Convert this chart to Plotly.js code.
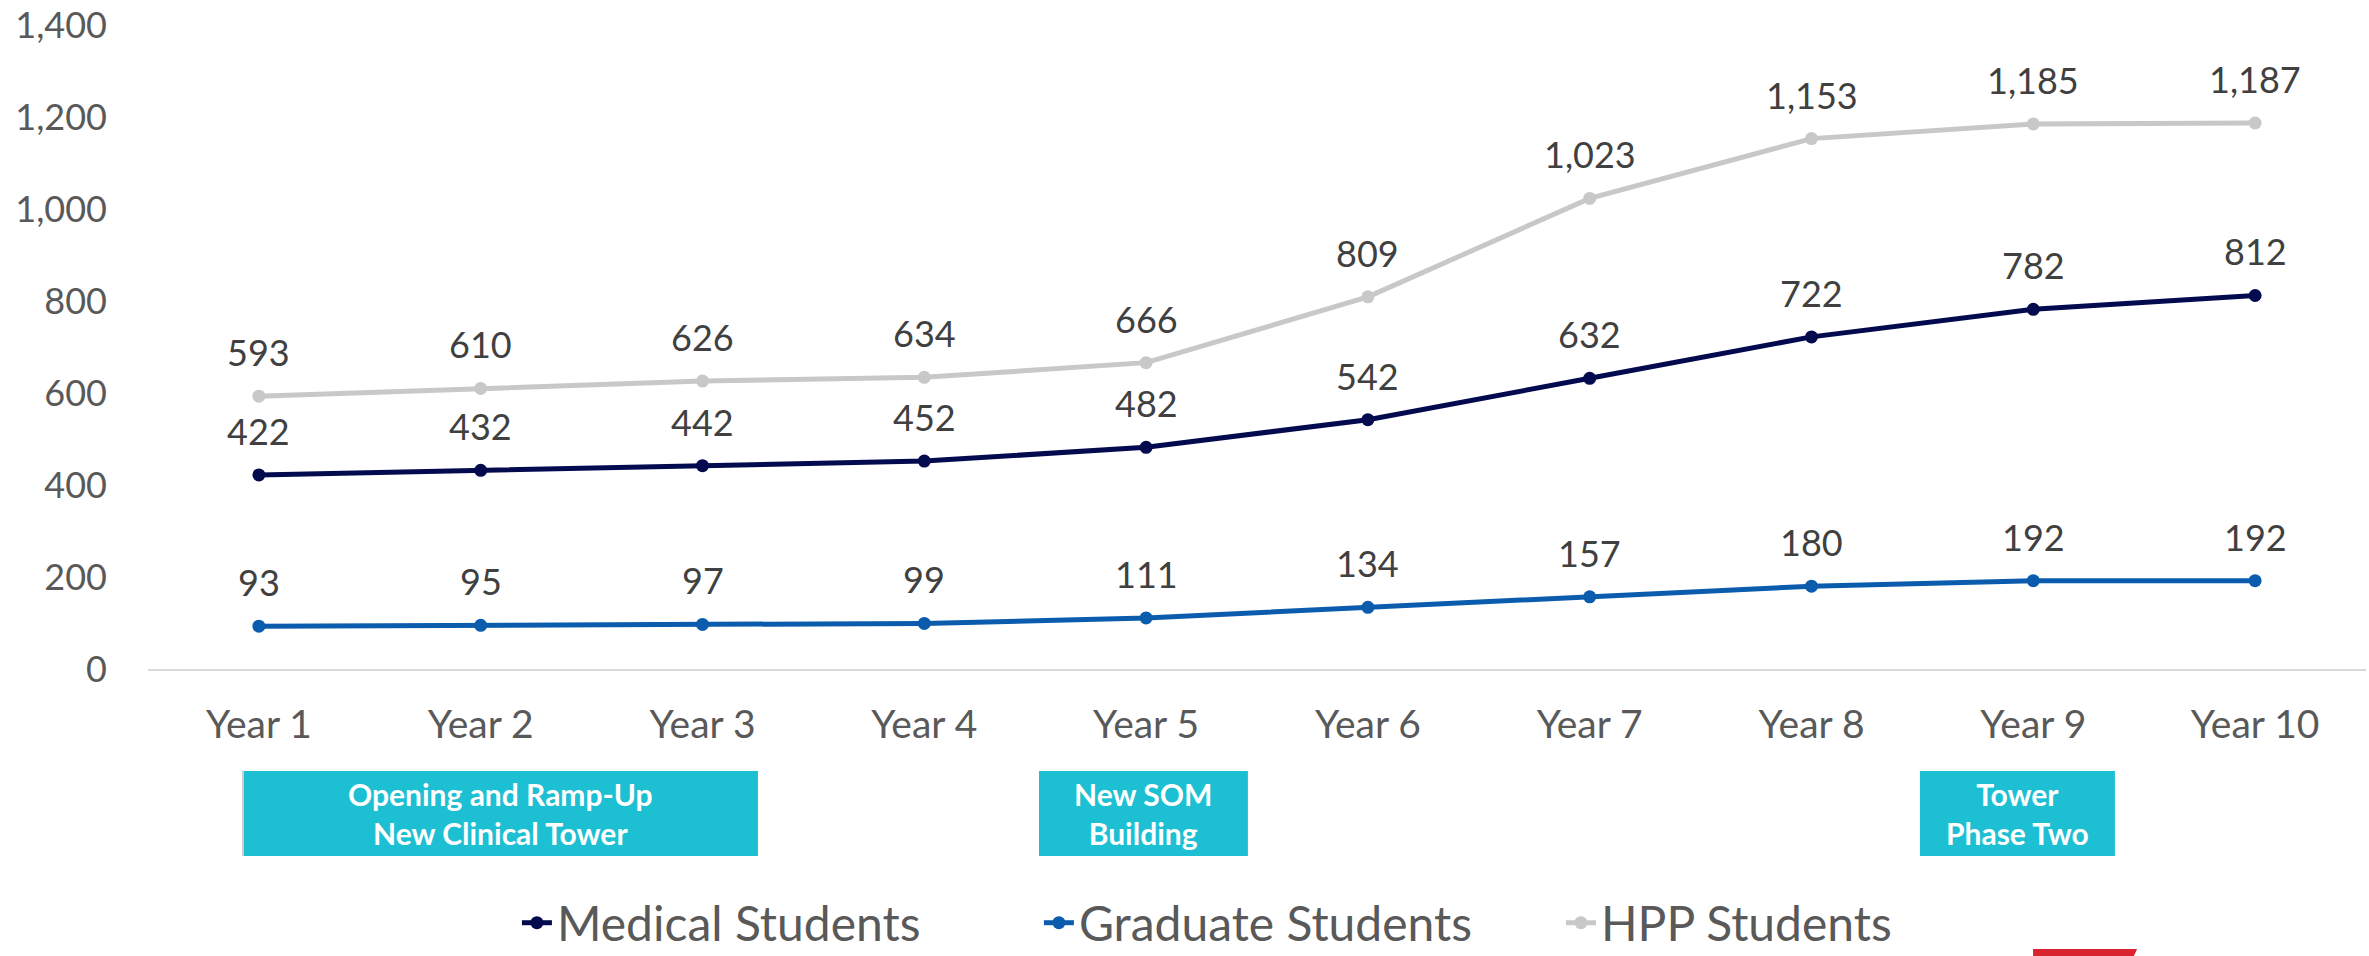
<!DOCTYPE html>
<html>
<head>
<meta charset="utf-8">
<script src="https://cdn.plot.ly/plotly-3.0.1.min.js"></script>
<style>
  html, body { margin: 0; padding: 0; background: #ffffff; }
  #chart { width: 2369px; height: 956px; }
</style>
</head>
<body>
<div id="chart"></div>
<script>
// ---- data ----
var years = ["Year 1", "Year 2", "Year 3", "Year 4", "Year 5", "Year 6", "Year 7", "Year 8", "Year 9", "Year 10"];
var medicalStudents = [422, 432, 442, 452, 482, 542, 632, 722, 782, 812];
var graduateStudents = [93, 95, 97, 99, 111, 134, 157, 180, 192, 192];
var hppStudents = [593, 610, 626, 634, 666, 809, 1023, 1153, 1185, 1187];
var seriesNames = ["Medical Students", "Graduate Students", "HPP Students"];
var yTickValues = [0, 200, 400, 600, 800, 1000, 1200, 1400];
var milestoneLabels = ["Opening and Ramp-Up<br>New Clinical Tower", "New SOM<br>Building", "Tower<br>Phase Two"];

// ---- styles ----
var FONT = "Lato, 'Open Sans', sans-serif";
var colors = ["#030A4E", "#0B5CAD", "#C8C8C8"];
var TEAL = "#1DBFD3";

var series = [medicalStudents, graduateStudents, hppStudents];

var traces = series.map(function (vals, i) {
  return {
    type: "scatter",
    mode: "lines+markers",
    name: seriesNames[i],
    x: years,
    y: vals,
    line: { color: colors[i], width: 5 },
    marker: { color: colors[i], size: 13 },
    hoverinfo: "x+y+name"
  };
});

// Data labels (built from the series arrays)
var annotations = [];
series.forEach(function (vals) {
  vals.forEach(function (v, j) {
    annotations.push({
      x: years[j], y: v, xref: "x", yref: "y",
      text: v.toLocaleString("en-US"),
      showarrow: false,
      yanchor: "middle", xanchor: "center",
      yshift: 44,
      font: { family: FONT, size: 36, color: "#404040" }
    });
  });
});

// Milestone boxes below the axis (paper coordinates)
var boxes = [
  { x0: 0.0428, x1: 0.2750 },
  { x0: 0.4017, x1: 0.4959 },
  { x0: 0.7989, x1: 0.8868 }
];
var boxY0 = -0.2904, boxY1 = -0.1584;

var shapes = [];
boxes.forEach(function (b, i) {
  shapes.push({
    type: "rect", xref: "paper", yref: "paper",
    x0: b.x0, x1: b.x1, y0: boxY0, y1: boxY1,
    fillcolor: TEAL, line: { width: 0 }, layer: "above"
  });
  annotations.push({
    xref: "paper", yref: "paper",
    x: (b.x0 + b.x1) / 2, y: (boxY0 + boxY1) / 2,
    xanchor: "center", yanchor: "middle",
    text: "<b>" + milestoneLabels[i] + "</b>",
    showarrow: false,
    align: "center",
    font: { family: FONT, size: 30, color: "#ffffff" }
  });
});
// thin gray edge on the first box
shapes.push({
  type: "line", xref: "paper", yref: "paper",
  x0: boxes[0].x0, x1: boxes[0].x0, y0: boxY0, y1: boxY1,
  line: { color: "#D0D0D0", width: 2 }, layer: "above"
});
// partial red logo mark at the bottom edge
shapes.push({
  type: "path", xref: "paper", yref: "paper",
  path: "M 0.8499,-0.4348 L 0.8968,-0.4348 L 0.8950,-0.4480 L 0.8499,-0.4480 Z",
  fillcolor: "#D9232E", line: { width: 0 }, layer: "above"
});

var layout = {
  width: 2369,
  height: 956,
  margin: { l: 148, r: 3, t: 25, b: 287, pad: 0, autoexpand: false },
  paper_bgcolor: "#ffffff",
  plot_bgcolor: "#ffffff",
  showlegend: true,
  font: { family: FONT, color: "#595959" },
  xaxis: {
    type: "category",
    range: [-0.5, 9.5],
    showgrid: false,
    zeroline: false,
    showline: true,
    linecolor: "#D9D9D9",
    linewidth: 2,
    ticks: "",
    ticklabelstandoff: 20,
    tickfont: { family: FONT, size: 39, color: "#595959" },
    automargin: false,
    fixedrange: true
  },
  yaxis: {
    range: [0, 1400],
    tickvals: yTickValues,
    tickformat: ",",
    showgrid: false,
    zeroline: false,
    showline: false,
    ticks: "",
    ticklabelstandoff: 40,
    tickfont: { family: FONT, size: 36, color: "#595959" },
    automargin: false,
    fixedrange: true
  },
  legend: {
    orientation: "h",
    xref: "container", yref: "container",
    x: 0.2182, xanchor: "left",
    y: 0.0345, yanchor: "middle",
    entrywidth: 477,
    entrywidthmode: "pixels",
    font: { family: FONT, size: 48, color: "#595959" },
    bgcolor: "rgba(0,0,0,0)",
    borderwidth: 0
  },
  shapes: shapes,
  annotations: annotations
};

Plotly.newPlot("chart", traces, layout, { displayModeBar: false, staticPlot: true });
</script>
</body>
</html>
